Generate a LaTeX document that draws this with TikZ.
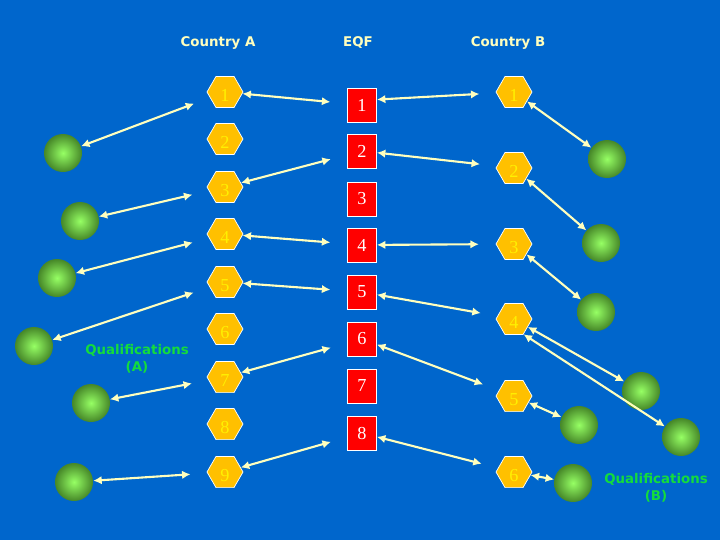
\documentclass[tikz,border=0pt]{standalone}
\usepackage{fontspec}
\setmainfont{Liberation Serif}
\newfontfamily\labelfont{DejaVu Sans}
\usetikzlibrary{shapes.geometric,arrows.meta}
\definecolor{slideblue}{RGB}{0,102,204}
\definecolor{hexgold}{RGB}{255,192,0}
\definecolor{hexdigit}{RGB}{255,240,0}
\definecolor{paleyellow}{RGB}{255,255,190}
\definecolor{qualgreen}{RGB}{20,220,60}
\definecolor{balllight}{RGB}{150,255,100}
\definecolor{balldark}{RGB}{70,135,40}
\tikzset{
  level/.style={regular polygon,regular polygon sides=6,minimum size=0.9cm,inner sep=0pt,
    fill=hexgold,draw=white,line width=0.5pt,text=hexdigit,text height=14pt,text depth=0pt,
    font=\fontsize{13}{13}\selectfont},
  eqfbox/.style={rectangle,minimum width=0.725cm,minimum height=0.85cm,inner sep=0pt,
    fill=red,draw=white,line width=0.6pt,text=white,font=\fontsize{13}{13}\selectfont},
  qual/.style={circle,minimum size=0.95cm,inner sep=0pt,inner color=balllight,outer color=balldark},
  link/.style={{Latex[length=6pt,width=6pt]}-{Latex[length=6pt,width=6pt]},draw=paleyellow,line width=1.5pt},
  gap/.style={shorten >=0.42cm},
  heading/.style={text=paleyellow,font=\labelfont\bfseries\fontsize{9.5}{11}\selectfont},
  qualtext/.style={text=qualgreen,align=center,font=\labelfont\bfseries\fontsize{9.5}{12}\selectfont}
}
\begin{document}
\begin{tikzpicture}[x=0.025cm,y=-0.025cm]
  \fill[slideblue] (0,0) rectangle (720,540);
  \node[heading] (headA) at (218,43) {Country A};
  \node[heading] (headEQF) at (358,43) {EQF};
  \node[heading] (headB) at (508,43) {Country B};

  \node[level] (a1) at (225,92) {1};
  \node[level] (a2) at (225,139) {2};
  \node[level] (a3) at (225,187) {3};
  \node[level] (a4) at (225,234) {4};
  \node[level] (a5) at (225,282) {5};
  \node[level] (a6) at (225,329) {6};
  \node[level] (a7) at (225,377) {7};
  \node[level] (a8) at (225,424) {8};
  \node[level] (a9) at (225,472) {9};

  \node[eqfbox] (e1) at (362,105) {1};
  \node[eqfbox] (e2) at (362,151) {2};
  \node[eqfbox] (e3) at (362,199) {3};
  \node[eqfbox] (e4) at (362,245) {4};
  \node[eqfbox] (e5) at (362,292) {5};
  \node[eqfbox] (e6) at (362,339) {6};
  \node[eqfbox] (e7) at (362,386) {7};
  \node[eqfbox] (e8) at (362,433) {8};

  \node[level] (b1) at (514,92) {1};
  \node[level] (b2) at (514,168) {2};
  \node[level] (b3) at (514,244) {3};
  \node[level] (b4) at (514,319) {4};
  \node[level] (b5) at (514,396) {5};
  \node[level] (b6) at (514,472) {6};

  \node[qual] (qa1) at (63,153) {};
  \node[qual] (qa2) at (80,221) {};
  \node[qual] (qa3) at (57,278) {};
  \node[qual] (qa4) at (34,346) {};
  \node[qual] (qa5) at (91,403) {};
  \node[qual] (qa6) at (74,482) {};
  \node[qualtext] (labelA) at (137,359) {Qualifications\\(A)};

  \node[qual] (qb1) at (607,159) {};
  \node[qual] (qb2) at (601,243) {};
  \node[qual] (qb3) at (596,312) {};
  \node[qual] (qb4) at (641,391) {};
  \node[qual] (qb5) at (579,425) {};
  \node[qual] (qb6) at (681,437) {};
  \node[qual] (qb7) at (573,483) {};
  \node[qualtext] (labelB) at (656,488) {Qualifications\\(B)};

  \draw[link,gap] (qa1) -- (a1);
  \draw[link,gap] (qa2) -- (a3);
  \draw[link,gap] (qa3) -- (a4);
  \draw[link,gap] (qa4) -- (a5);
  \draw[link,gap] (qa5) -- (a7);
  \draw[link,gap] (qa6) -- (a9);

  \draw[link,gap] (a1) -- (e1);
  \draw[link,gap] (a3) -- (e2);
  \draw[link,gap] (a4) -- (e4);
  \draw[link,gap] (a5) -- (e5);
  \draw[link,gap] (a7) -- (e6);
  \draw[link,gap] (a9) -- (e8);

  \draw[link,gap] (e1.20) -- (b1);
  \draw[link,gap] (e2) -- (b2);
  \draw[link,gap] (e4) -- (b3);
  \draw[link,gap] (e5) -- (b4);
  \draw[link,gap] (e6) -- (b5);
  \draw[link,gap] (e8) -- (b6);

  \draw[link] (b1) -- (qb1);
  \draw[link] (b2) -- (qb2);
  \draw[link] (b3) -- (qb3);
  \draw[link] (b4) -- (qb4);
  \draw[link] (b4.-58) -- (qb6);
  \draw[link] (b5) -- (qb5);
  \draw[link] (b6) -- (qb7);
\end{tikzpicture}
\end{document}
